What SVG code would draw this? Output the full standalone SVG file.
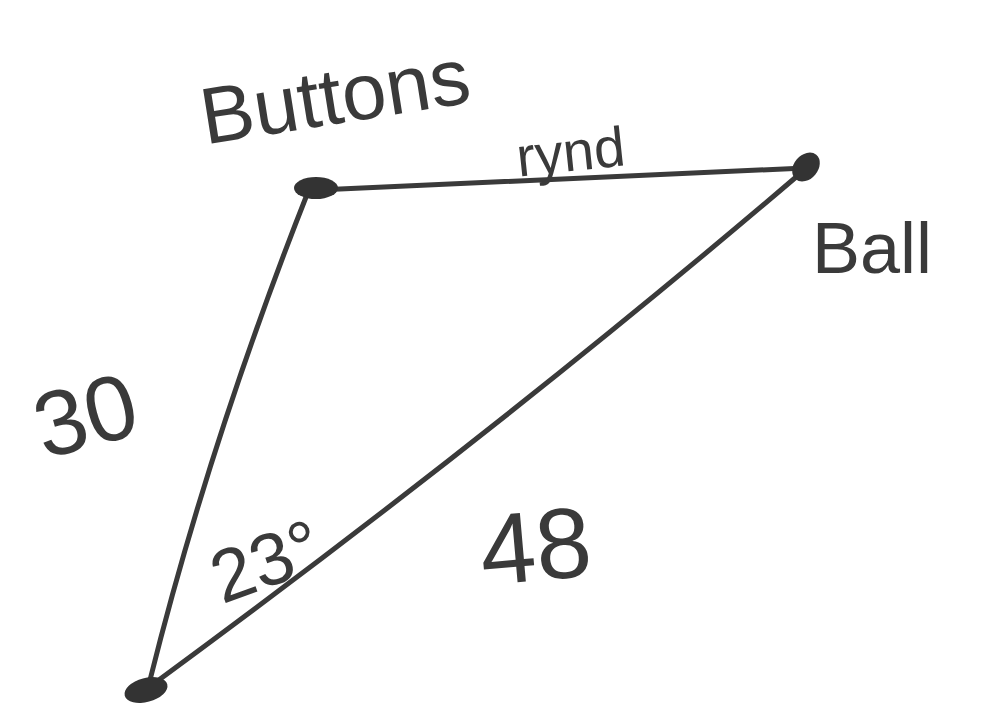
<svg xmlns="http://www.w3.org/2000/svg" width="998" height="718" viewBox="0 0 998 718">
<style>
.e{stroke:#3a3a3a;stroke-width:5;fill:none;stroke-linecap:round}
.t{font-family:"Liberation Sans","DejaVu Sans",sans-serif;fill:#3a3a3a}
.d{fill:#333}
</style>
<rect width="998" height="718" fill="#fff"/>
<g id="connectors">
<path class="e" d="M318 190 L805 168"/>
<path class="e" d="M308 192 Q210 440 150 680"/>
<path class="e" d="M802 172 Q500 430 148 688"/>
</g>
<g id="buttons">
<ellipse class="d" cx="316" cy="188" rx="22" ry="11"/>
<text class="t" x="198" y="118" font-size="80" transform="rotate(-9 370 85)">Buttons</text>
</g>
<g id="ball">
<ellipse class="d" cx="806" cy="167" rx="12" ry="16" transform="rotate(40 806 167)"/>
<text class="t" x="812" y="273" font-size="72">Ball</text>
</g>
<g id="bottom">
<ellipse class="d" cx="146" cy="690" rx="22" ry="12" transform="rotate(-15 146 690)"/>
</g>
<g id="labels">
<text class="t" x="515" y="168" font-size="56" transform="rotate(-6 600 140)">rynd</text>
<text class="t" x="28" y="445" font-size="92" transform="rotate(-15 90 390)">30</text>
<text class="t" x="206" y="588" font-size="74" transform="rotate(-20 260 550)">23°</text>
<text class="t" x="478" y="580" font-size="100" transform="rotate(-5 540 525)">48</text>
</g>
</svg>
